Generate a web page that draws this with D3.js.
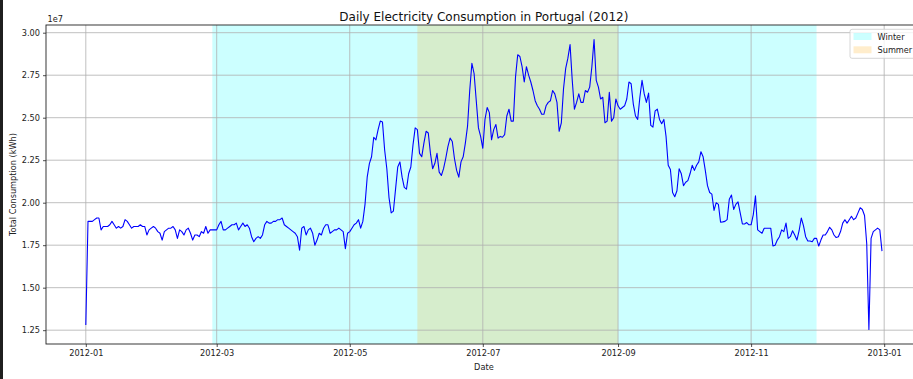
<!DOCTYPE html>
<html>
<head>
<meta charset="utf-8">
<script src="https://cdn.jsdelivr.net/npm/d3@7"></script>
<style>
  html, body { margin: 0; padding: 0; background: #fff; overflow: hidden; }
  svg { display: block; font-family: "DejaVu Sans", sans-serif; }
</style>
</head>
<body>
<svg id="chart" width="913" height="379"></svg>
<script>
// Daily consumption, 2012, in units of 1e7 kWh (one array per month)
const jan = [1.28,1.89,1.89,1.89,1.90,1.91,1.91,1.84,1.86,1.86,1.86,1.87,1.89,1.87,1.85,1.86,1.85,1.86,1.90,1.89,1.87,1.85,1.86,1.86,1.86,1.87,1.86,1.86,1.81,1.84,1.85];
const feb = [1.86,1.85,1.83,1.82,1.78,1.83,1.84,1.85,1.85,1.86,1.84,1.79,1.84,1.83,1.81,1.84,1.85,1.82,1.78,1.81,1.81,1.80,1.83,1.82,1.86,1.82,1.84,1.84,1.84];
const mar = [1.84,1.87,1.89,1.84,1.84,1.85,1.86,1.87,1.87,1.88,1.84,1.86,1.88,1.86,1.87,1.85,1.80,1.77,1.79,1.80,1.79,1.81,1.87,1.89,1.88,1.88,1.89,1.89,1.90,1.90,1.91];
const apr = [1.87,1.86,1.85,1.84,1.83,1.82,1.80,1.72,1.85,1.86,1.81,1.84,1.85,1.82,1.75,1.78,1.82,1.81,1.85,1.87,1.87,1.82,1.83,1.84,1.84,1.85,1.84,1.83,1.73,1.82];
const may = [1.83,1.85,1.87,1.88,1.90,1.85,1.89,1.99,2.15,2.23,2.27,2.385,2.37,2.43,2.48,2.475,2.31,2.20,2.03,1.94,1.95,2.08,2.21,2.24,2.15,2.09,2.08,2.17,2.21,2.34,2.44];
const jun = [2.43,2.29,2.27,2.35,2.42,2.41,2.29,2.20,2.23,2.29,2.18,2.16,2.20,2.26,2.33,2.38,2.36,2.26,2.19,2.15,2.24,2.27,2.35,2.45,2.66,2.82,2.76,2.60,2.44,2.39];
const jul = [2.32,2.49,2.56,2.53,2.37,2.43,2.46,2.38,2.39,2.385,2.40,2.51,2.55,2.48,2.48,2.74,2.87,2.86,2.80,2.71,2.80,2.75,2.71,2.66,2.60,2.57,2.55,2.52,2.52,2.57,2.59];
const aug = [2.60,2.66,2.64,2.59,2.42,2.47,2.67,2.79,2.85,2.93,2.72,2.55,2.59,2.64,2.59,2.59,2.66,2.65,2.68,2.80,2.96,2.72,2.68,2.61,2.62,2.47,2.48,2.65,2.48,2.50,2.61];
const sep = [2.57,2.55,2.56,2.57,2.61,2.71,2.70,2.58,2.51,2.49,2.62,2.72,2.64,2.59,2.645,2.455,2.445,2.54,2.55,2.49,2.465,2.49,2.39,2.22,2.195,2.06,2.035,2.07,2.20,2.17];
const oct = [2.10,2.12,2.13,2.17,2.22,2.19,2.22,2.24,2.30,2.27,2.19,2.10,2.06,2.05,1.955,2.00,1.99,1.885,1.887,1.89,1.90,2.02,2.045,1.96,1.99,2.005,1.94,1.875,1.875,1.883,1.87];
const nov = [1.87,1.93,2.04,1.84,1.83,1.82,1.85,1.85,1.85,1.85,1.745,1.75,1.78,1.80,1.84,1.83,1.88,1.79,1.80,1.835,1.81,1.78,1.835,1.91,1.865,1.80,1.775,1.775,1.77,1.79];
const dec = [1.79,1.745,1.78,1.81,1.81,1.83,1.855,1.84,1.81,1.795,1.80,1.83,1.88,1.90,1.88,1.90,1.92,1.90,1.91,1.94,1.97,1.96,1.925,1.76,1.254,1.79,1.83,1.84,1.85,1.84,1.715];

const months = [jan, feb, mar, apr, may, jun, jul, aug, sep, oct, nov, dec];
const UNIT = 1e7;

// Seasons (as drawn in the original)
const seasonNames = ["Winter", "Summer"];
const seasonStarts = ["2012-02-28", "2012-06-01"];
const seasonEnds = ["2012-12-01", "2012-09-01"];
const seasonColors = ["#00ffff", "#ffa500"];

// Tick labels
const yTicks = [1.25, 1.50, 1.75, 2.00, 2.25, 2.50, 2.75, 3.00];
const xTickDates = ["2012-01-01","2012-03-01","2012-05-01","2012-07-01","2012-09-01","2012-11-01","2013-01-01"];

const parse = d3.utcParse("%Y-%m-%d");
const data = [];
months.forEach((arr, m) => {
  arr.forEach((v, i) => {
    data.push({ date: new Date(Date.UTC(2012, m, i + 1)), value: v * UNIT });
  });
});

const svg = d3.select("#chart");
const W = 913, H = 379;
const margin = { left: 46, top: 25, right: 921.8, bottom: 344 };

// left dark strip of the screenshot
svg.append("rect").attr("x", 0).attr("y", 0).attr("width", 3).attr("height", H).attr("fill", "#1f1f1f");

const day = 86400000;
const first = data[0].date, last = data[data.length - 1].date;
const pad = (last - first) * 0.05;
const x = d3.scaleUtc()
  .domain([new Date(+first - pad), new Date(+last + pad)])
  .range([margin.left, margin.right]);

const vals = data.map(d => d.value);
const ymin = d3.min(vals), ymax = d3.max(vals);
const ypad = (ymax - ymin) * 0.05;
const y = d3.scaleLinear()
  .domain([ymin - ypad, ymax + ypad])
  .range([margin.bottom, margin.top]);

const g = svg.append("g");

// clip to axes
svg.append("defs").append("clipPath").attr("id", "clip")
  .append("rect").attr("x", margin.left).attr("y", margin.top)
  .attr("width", margin.right - margin.left).attr("height", margin.bottom - margin.top);

// season spans
const spans = g.append("g").attr("clip-path", "url(#clip)");
seasonNames.forEach((n, i) => {
  const a = x(parse(seasonStarts[i])), b = x(parse(seasonEnds[i]));
  spans.append("rect")
    .attr("x", Math.min(a, b)).attr("y", margin.top)
    .attr("width", Math.abs(b - a)).attr("height", margin.bottom - margin.top)
    .attr("fill", seasonColors[i]).attr("fill-opacity", 0.2);
});

// grid
const grid = g.append("g").attr("clip-path", "url(#clip)");
xTickDates.forEach(s => {
  const xv = x(parse(s));
  grid.append("line").attr("x1", xv).attr("x2", xv).attr("y1", margin.top).attr("y2", margin.bottom)
    .attr("stroke", "#b0b0b0").attr("stroke-width", 0.8);
});
yTicks.forEach(t => {
  const yv = y(t * UNIT);
  grid.append("line").attr("x1", margin.left).attr("x2", margin.right).attr("y1", yv).attr("y2", yv)
    .attr("stroke", "#b0b0b0").attr("stroke-width", 0.8);
});

// data line
const line = d3.line().x(d => x(d.date)).y(d => y(d.value));
g.append("path").datum(data)
  .attr("clip-path", "url(#clip)")
  .attr("d", line).attr("fill", "none")
  .attr("stroke", "#0000ff").attr("stroke-width", 1.1).attr("stroke-linejoin", "round");

// axes
const fmt = d3.utcFormat("%Y-%m");
const xAxis = d3.axisBottom(x)
  .tickValues(xTickDates.map(parse))
  .tickFormat(fmt).tickSize(3).tickPadding(3);
const xa = svg.append("g").attr("transform", `translate(0,${margin.bottom})`).call(xAxis);
xa.select(".domain").remove();
xa.selectAll("line").attr("stroke", "#222").attr("stroke-width", 0.8);
xa.selectAll("text").attr("fill", "#222").style("font-size", "8.2px").style("font-family", "DejaVu Sans");

const yAxis = d3.axisLeft(y)
  .tickValues(yTicks.map(t => t * UNIT))
  .tickFormat(v => (v / UNIT).toFixed(2)).tickSize(3).tickPadding(3);
const ya = svg.append("g").attr("transform", `translate(${margin.left},0)`).call(yAxis);
ya.select(".domain").remove();
ya.selectAll("line").attr("stroke", "#222").attr("stroke-width", 0.8);
ya.selectAll("text").attr("fill", "#222").style("font-size", "8.2px").style("font-family", "DejaVu Sans");

// spines
svg.append("rect")
  .attr("x", margin.left).attr("y", margin.top)
  .attr("width", margin.right - margin.left).attr("height", margin.bottom - margin.top)
  .attr("fill", "none").attr("stroke", "#222").attr("stroke-width", 0.9);

// offset text
svg.append("text").attr("x", 47.5).attr("y", 22).attr("fill", "#222")
  .style("font-size", "8.2px").text("1e7");

// title
svg.append("text").attr("x", (margin.left + margin.right) / 2).attr("y", 20.5)
  .attr("text-anchor", "middle").attr("fill", "#111")
  .style("font-size", "12px").text("Daily Electricity Consumption in Portugal (2012)");

// axis labels
svg.append("text").attr("x", (margin.left + margin.right) / 2).attr("y", 370)
  .attr("text-anchor", "middle").attr("fill", "#222")
  .style("font-size", "8.2px").text("Date");
svg.append("text")
  .attr("transform", `translate(15.5,${(margin.top + margin.bottom) / 2}) rotate(-90)`)
  .attr("text-anchor", "middle").attr("fill", "#222")
  .style("font-size", "8.2px").text("Total Consumption (kWh)");

// legend
const lg = svg.append("g");
lg.append("rect").attr("x", 850).attr("y", 29.3).attr("width", 67).attr("height", 29)
  .attr("rx", 2).attr("fill", "#fff").attr("fill-opacity", 0.8)
  .attr("stroke", "#cccccc").attr("stroke-width", 0.8);
seasonNames.forEach((n, i) => {
  const yy = 33 + i * 13.3;
  lg.append("rect").attr("x", 853.5).attr("y", yy).attr("width", 18).attr("height", 7)
    .attr("fill", seasonColors[i]).attr("fill-opacity", 0.2);
  lg.append("text").attr("x", 877.5).attr("y", yy + 6.6).attr("fill", "#222")
    .style("font-size", "8.2px").text(n);
});
</script>
</body>
</html>
